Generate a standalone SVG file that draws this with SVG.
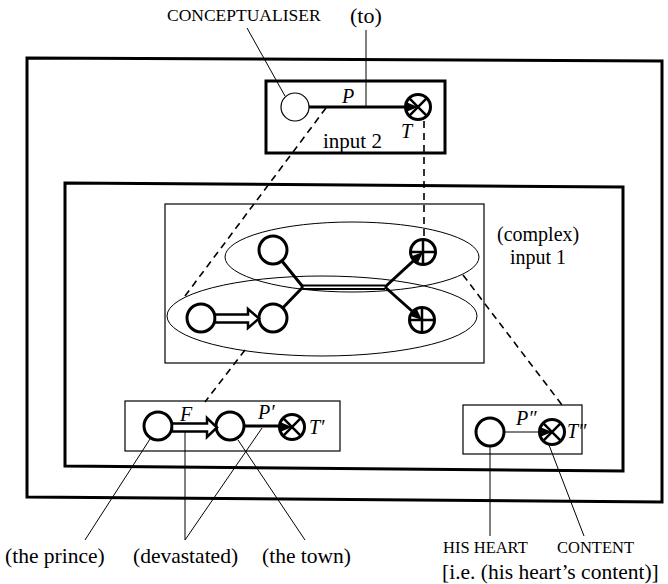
<svg xmlns="http://www.w3.org/2000/svg" width="668" height="584" viewBox="0 0 668 584">
<style>
.box{fill:none;stroke:#000;stroke-width:3}
.tbox{fill:none;stroke:#000;stroke-width:1.2}
.c{fill:#fff;stroke:#000;stroke-width:3}
.thin{fill:none;stroke:#000;stroke-width:1}
.thick{fill:none;stroke:#000;stroke-width:3}
.dash{fill:none;stroke:#000;stroke-width:1.6;stroke-dasharray:7 5}
.ell{fill:none;stroke:#000;stroke-width:1}
.t{font-family:"Liberation Serif","Times New Roman",serif;fill:#000}
.i{font-family:"Liberation Serif","Times New Roman",serif;font-style:italic;fill:#000;font-size:20px}
</style>
<defs>
<g id="otimes">
<circle r="12.5" fill="#fff" stroke="#000" stroke-width="3"/>
<path d="M-8.8,-8.8L8.8,8.8M-8.8,8.8L8.8,-8.8" stroke="#000" stroke-width="2.5"/>
<path d="M-12,-5L0,0L-12,5Z" fill="#000"/>
</g>
<g id="oplus">
<circle r="12.5" fill="#fff" stroke="#000" stroke-width="3"/>
<path d="M0,-12.5V12.5M-12.5,0H12.5" stroke="#000" stroke-width="2.5"/>
</g>
<path id="tri" d="M-12,-5L0,0L-12,5Z" fill="#000"/>
</defs>

<g id="outer-frame"><path class="box" d="M27,58 L662,61 L662,502 L27,497 Z"/></g>
<g id="inner-frame"><path class="box" d="M65,183 L623,187 L623,471 L65,466 Z"/></g>

<g id="connectors">
<line class="thin" x1="247" y1="28" x2="285" y2="96"/>
<line class="thin" x1="366" y1="30" x2="366" y2="107"/>
<line class="dash" x1="326" y1="108" x2="185" y2="296"/>
<line class="dash" x1="245" y1="350" x2="205" y2="402"/>
<line class="dash" x1="424" y1="121" x2="424" y2="238"/>
<line class="dash" x1="463" y1="275" x2="562" y2="405"/>
<line class="thin" x1="150" y1="439" x2="85" y2="540"/>
<line class="thin" x1="185" y1="432" x2="185" y2="540"/>
<line class="thin" x1="185" y1="540" x2="262" y2="428"/>
<line class="thin" x1="238" y1="440" x2="305" y2="540"/>
<line class="thin" x1="490" y1="446" x2="490" y2="536"/>
<line class="thin" x1="549" y1="445" x2="584" y2="536"/>
</g>

<g id="input2">
<rect class="box" x="266" y="81" width="179" height="72"/>
<line class="thick" x1="309" y1="107" x2="406" y2="107"/>
<circle cx="295" cy="107" r="14" fill="#fff" stroke="#000" stroke-width="1.2"/>
<use href="#otimes" x="418" y="107"/>
<text class="i" x="342" y="103">P</text>
<text class="i" x="401" y="138">T</text>
<text class="t" x="323" y="148" font-size="21">input 2</text>
</g>

<g id="input1">
<rect class="tbox" x="165" y="204" width="319" height="159"/>
<ellipse class="ell" cx="352" cy="257" rx="127" ry="35"/>
<ellipse class="ell" cx="322" cy="316" rx="155" ry="40"/>
<line class="thick" x1="273" y1="250" x2="303" y2="287"/>
<line class="thick" x1="273" y1="318" x2="303" y2="287"/>
<line class="thick" x1="385" y1="287" x2="423" y2="252"/>
<line class="thick" x1="385" y1="287" x2="422" y2="320"/>
<path d="M303,285.5H385M303,289H385" stroke="#000" stroke-width="2"/>
<circle class="c" cx="273" cy="250" r="14"/>
<circle class="c" cx="201" cy="318" r="14"/>
<circle class="c" cx="273" cy="318" r="14"/>
<path d="M215,314.5H248V309L259,318.5L248,328V322.5H215Z" fill="#fff" stroke="#000" stroke-width="2.5" stroke-linejoin="miter"/>
<use href="#oplus" x="423" y="252"/>
<use href="#tri" transform="translate(423,252) rotate(-43)"/>
<use href="#oplus" x="422" y="320"/>
<use href="#tri" transform="translate(422,320) rotate(42)"/>
<text class="t" x="497" y="241" font-size="20">(complex)</text>
<text class="t" x="510" y="264" font-size="20">input 1</text>
</g>

<g id="blend-left">
<rect class="tbox" x="125" y="401" width="215" height="50"/>
<line class="thick" x1="244" y1="426" x2="281" y2="426"/>
<circle class="c" cx="158" cy="426" r="14"/>
<circle class="c" cx="230" cy="426" r="14"/>
<path d="M172,423.5H207V418L217,427.5L207,437V431.5H172Z" fill="#fff" stroke="#000" stroke-width="2.5"/>
<use href="#otimes" x="292" y="427"/>
<text class="i" x="180" y="421">F</text>
<text class="i" x="258" y="419">P′</text>
<text class="i" x="309" y="434">T′</text>
</g>

<g id="blend-right">
<rect class="tbox" x="463" y="405" width="119" height="49"/>
<line class="thin" x1="504" y1="432" x2="540" y2="432" stroke-width="1.3"/>
<circle class="c" cx="490" cy="432" r="14"/>
<use href="#otimes" x="552" y="432"/>
<text class="i" x="516" y="425">P″</text>
<text class="i" x="567" y="438">T″</text>
</g>

<g id="labels">
<text class="t" x="167" y="21" font-size="17.5">CONCEPTUALISER</text>
<text class="t" x="350" y="23" font-size="22">(to)</text>
<text class="t" x="5" y="563" font-size="21.5">(the prince)</text>
<text class="t" x="133" y="563" font-size="21.5">(devastated)</text>
<text class="t" x="262" y="563" font-size="21.5">(the town)</text>
<text class="t" x="443" y="553" font-size="16.5">HIS HEART</text>
<text class="t" x="557" y="553" font-size="16.5">CONTENT</text>
<text class="t" x="442" y="579" font-size="21.5">[i.e. (his heart’s content)]</text>
</g>
</svg>
